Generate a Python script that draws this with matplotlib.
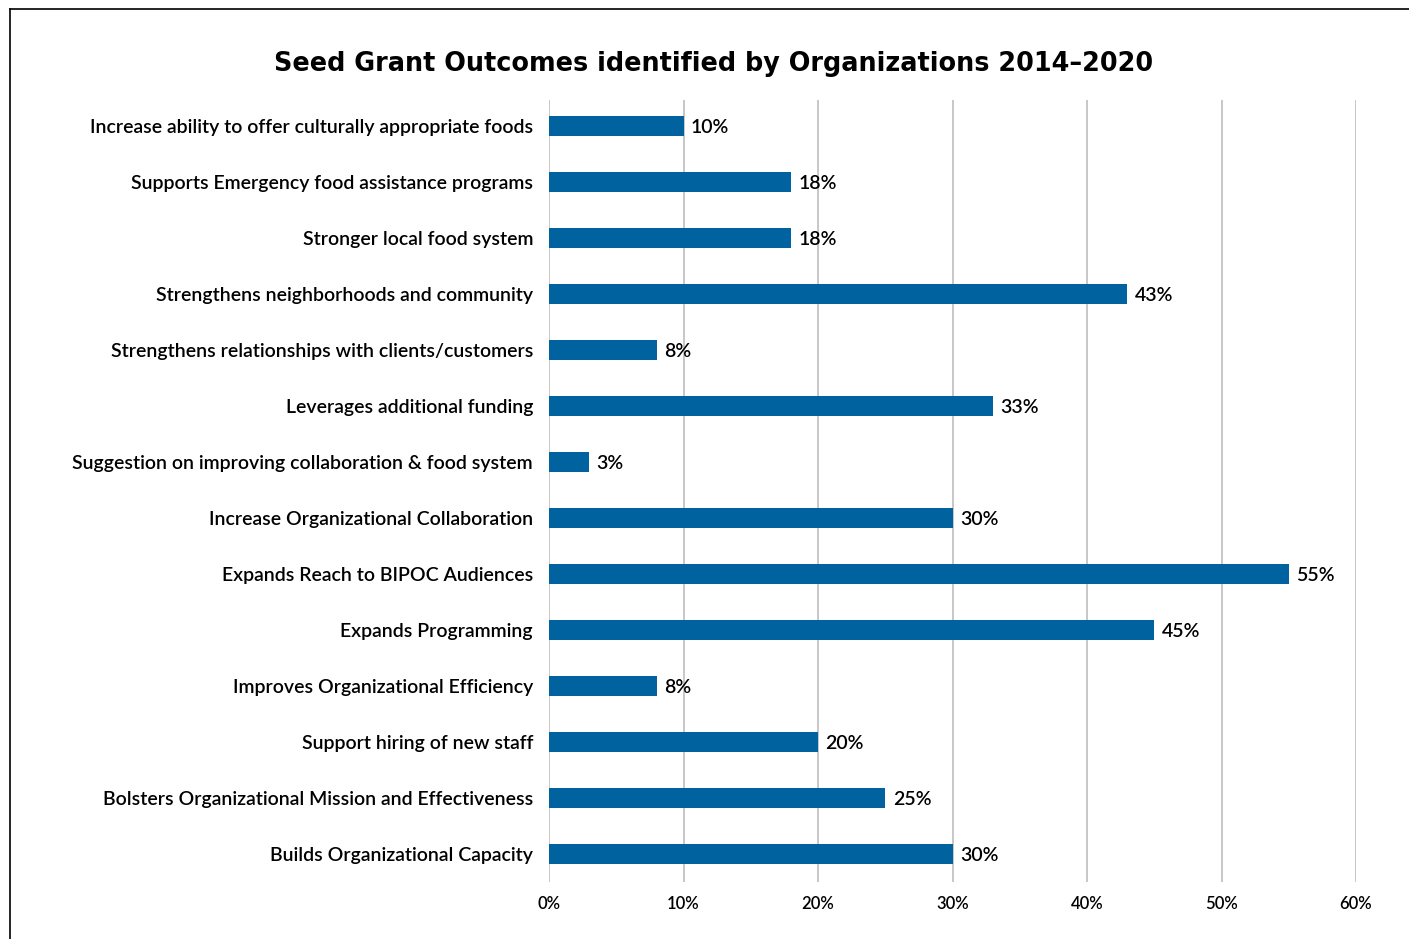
import matplotlib
matplotlib.use("Agg")
import matplotlib.pyplot as plt
from matplotlib.lines import Line2D

categories = [
    "Increase ability to offer culturally appropriate foods",
    "Supports Emergency food assistance programs",
    "Stronger local food system",
    "Strengthens neighborhoods and community",
    "Strengthens relationships with clients/customers",
    "Leverages additional funding",
    "Suggestion on improving collaboration & food system",
    "Increase Organizational Collaboration",
    "Expands Reach to BIPOC Audiences",
    "Expands Programming",
    "Improves Organizational Efficiency",
    "Support hiring of new staff",
    "Bolsters Organizational Mission and Effectiveness",
    "Builds Organizational Capacity",
]
values = [10, 18, 18, 43, 8, 33, 3, 30, 55, 45, 8, 20, 25, 30]
x_ticks = [0, 10, 20, 30, 40, 50, 60]
title = "Seed Grant Outcomes identified by Organizations 2014\u20132020"

BAR = "#00629e"
GRID = "#bdbdbd"
FONT = "Lato"
WEIGHT = "semibold"

W, H = 1409, 939
fig = plt.figure(figsize=(W / 100, H / 100), dpi=100)
ax = fig.add_axes([549 / W, 1 - 882 / H, (1356 - 549) / W, (882 - 100) / H])

pos = list(range(len(categories)))
ax.barh(pos, values, height=0.36, color=BAR, zorder=3)
for p, v in zip(pos, values):
    ax.text(v + 0.55, p, "%d%%" % v, va="center_baseline", ha="left",
            fontsize=14, family=FONT, fontweight=WEIGHT, color="black", zorder=4)

ax.set_xlim(0, 60)
ax.set_ylim(13.5, -0.46)
ax.set_xticks(x_ticks)
ax.set_xticklabels(["%d%%" % t for t in x_ticks], family=FONT, fontweight=WEIGHT, fontsize=12)
ax.set_yticks(pos)
ax.set_yticklabels(categories, family=FONT, fontweight=WEIGHT, fontsize=14)
ax.tick_params(axis="both", length=0)
ax.tick_params(axis="y", pad=11.5)
ax.tick_params(axis="x", pad=10)
ax.xaxis.grid(True, color=GRID, linewidth=1.2, zorder=0)
ax.set_axisbelow(True)
for s in ax.spines.values():
    s.set_visible(False)

fig.text(714 / W, 1 - 64 / H, title, ha="center", va="center",
         fontsize=18.4, fontweight="bold", family="DejaVu Sans")

# page frame lines (top and left)
fig.add_artist(Line2D([10 / W, 1], [1 - 9 / H, 1 - 9 / H], color="black", linewidth=1.2))
fig.add_artist(Line2D([10 / W, 10 / W], [0, 1 - 9 / H], color="black", linewidth=1.2))

fig.savefig("out.png", dpi=100)
